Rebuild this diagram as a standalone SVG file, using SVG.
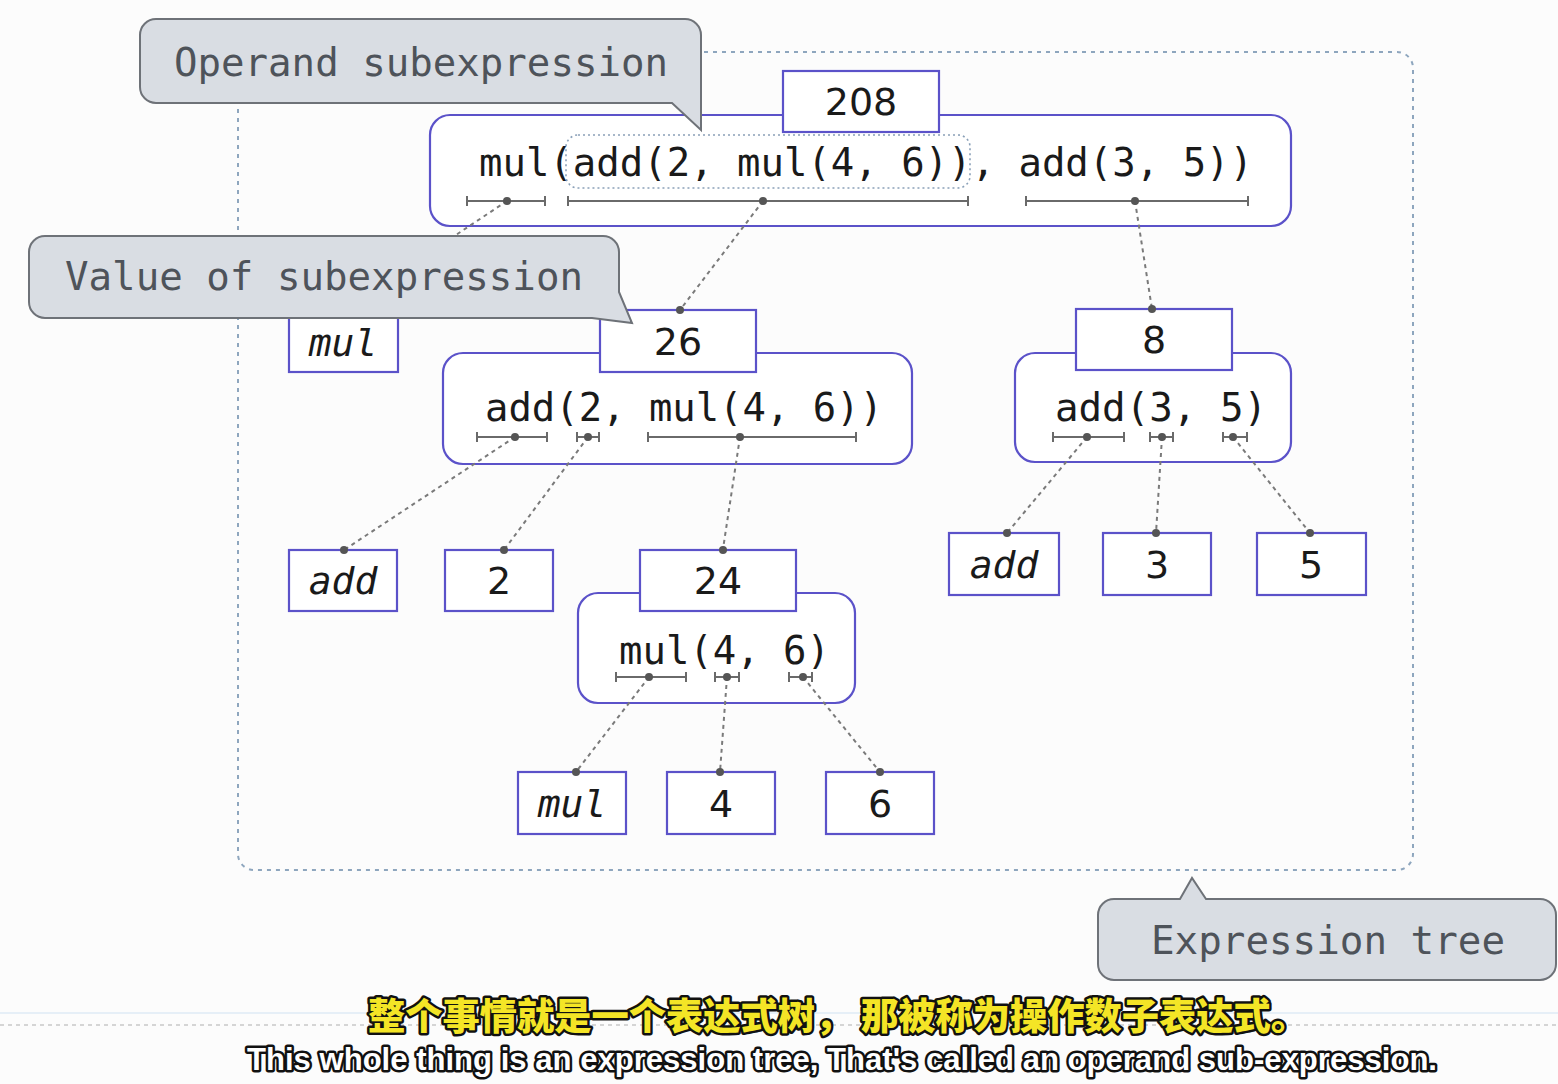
<svg xmlns="http://www.w3.org/2000/svg" width="1558" height="1084" viewBox="0 0 1558 1084">
<defs>
<style>
.bg{fill:#fcfcfc}
.tree{fill:none;stroke:#8ea6be;stroke-width:2;stroke-dasharray:4 5}
.exprbox{fill:#ffffff;stroke:#5b52c9;stroke-width:2.2}
.valbox{fill:#ffffff;stroke:#5b52c9;stroke-width:2.2}
.mono{font-family:"DejaVu Sans Mono","Liberation Mono",monospace;font-size:38.5px;fill:#1a1a1a}
.num{font-family:"DejaVu Sans","Liberation Sans",sans-serif;font-size:38px;fill:#1a1a1a;text-anchor:middle}
.op{font-family:"DejaVu Sans Mono","Liberation Mono",monospace;font-size:38px;font-style:italic;fill:#1a1a1a;text-anchor:middle}
.br{stroke:#6a6a6a;stroke-width:2;fill:none}
.dot{fill:#555555}
.conn{stroke:#7a7a7a;stroke-width:2;stroke-dasharray:4 4;fill:none}
.callout{fill:#d9dde3;stroke:#6e7278;stroke-width:2}
.ctext{font-family:"DejaVu Sans Mono","Liberation Mono",monospace;font-size:38.5px;fill:#4e535a}
.sel{fill:none;stroke:#8aa0b8;stroke-width:1.6;stroke-dasharray:2 3}
.zh{font-family:"Noto Sans CJK SC",sans-serif;font-weight:900;font-size:37px;fill:#f4e526;stroke:#111;stroke-width:5;paint-order:stroke;stroke-linejoin:round;text-anchor:middle}
.en{font-family:"Liberation Sans",sans-serif;font-weight:bold;font-size:31px;fill:#ffffff;stroke:#111;stroke-width:5;paint-order:stroke;stroke-linejoin:round;text-anchor:middle}
</style>
</defs>
<rect class="bg" x="0" y="0" width="1558" height="1084"/>
<line x1="0" y1="1013" x2="1558" y2="1013" stroke="#e6eff7" stroke-width="2"/>
<line x1="0" y1="1025" x2="1558" y2="1025" stroke="#c8c8c8" stroke-width="1.5" stroke-dasharray="4 4"/>

<g id="expression-tree-boundary">
<rect class="tree" x="238" y="52" width="1175" height="818" rx="16"/>
</g>

<g id="expr-top">
<rect class="exprbox" x="430" y="115" width="861" height="111" rx="20"/>
<rect class="sel" x="566" y="135" width="404" height="53" rx="12"/>
<text class="mono" x="479" y="176" textLength="774" lengthAdjust="spacingAndGlyphs" xml:space="preserve">mul(add(2, mul(4, 6)), add(3, 5))</text>
<path class="br" d="M467,201 H545 M467,196 V206 M545,196 V206"/>
<path class="br" d="M568,201 H968 M568,196 V206 M968,196 V206"/>
<path class="br" d="M1026,201 H1248 M1026,196 V206 M1248,196 V206"/>
</g>

<g id="expr-26">
<rect class="exprbox" x="443" y="353" width="469" height="111" rx="20"/>
<text class="mono" x="485" y="421" textLength="398" lengthAdjust="spacingAndGlyphs" xml:space="preserve">add(2, mul(4, 6))</text>
<path class="br" d="M477,437 H547 M477,432 V442 M547,432 V442"/>
<path class="br" d="M577,437 H599 M577,432 V442 M599,432 V442"/>
<path class="br" d="M648,437 H856 M648,432 V442 M856,432 V442"/>
</g>

<g id="expr-8">
<rect class="exprbox" x="1015" y="353" width="276" height="109" rx="20"/>
<text class="mono" x="1055" y="421" textLength="212" lengthAdjust="spacingAndGlyphs" xml:space="preserve">add(3, 5)</text>
<path class="br" d="M1053,437 H1124 M1053,432 V442 M1124,432 V442"/>
<path class="br" d="M1150,437 H1173 M1150,432 V442 M1173,432 V442"/>
<path class="br" d="M1223,437 H1247 M1223,432 V442 M1247,432 V442"/>
</g>

<g id="expr-24">
<rect class="exprbox" x="578" y="593" width="277" height="110" rx="20"/>
<text class="mono" x="619" y="664" textLength="211" lengthAdjust="spacingAndGlyphs" xml:space="preserve">mul(4, 6)</text>
<path class="br" d="M616,677 H686 M616,672 V682 M686,672 V682"/>
<path class="br" d="M715,677 H739 M715,672 V682 M739,672 V682"/>
<path class="br" d="M789,677 H812 M789,672 V682 M812,672 V682"/>
</g>

<g id="connectors">
<line class="conn" x1="507" y1="201" x2="343" y2="310"/>
<line class="conn" x1="763" y1="201" x2="680" y2="310"/>
<line class="conn" x1="1135" y1="201" x2="1152" y2="309"/>
<line class="conn" x1="515" y1="437" x2="344" y2="550"/>
<line class="conn" x1="588" y1="437" x2="504" y2="550"/>
<line class="conn" x1="740" y1="437" x2="723" y2="549"/>
<line class="conn" x1="1087" y1="437" x2="1007" y2="533"/>
<line class="conn" x1="1162" y1="437" x2="1156" y2="533"/>
<line class="conn" x1="1233" y1="437" x2="1310" y2="533"/>
<line class="conn" x1="649" y1="677" x2="576" y2="772"/>
<line class="conn" x1="727" y1="677" x2="720" y2="772"/>
<line class="conn" x1="803" y1="677" x2="880" y2="772"/>
<circle class="dot" cx="507" cy="201" r="4"/>
<circle class="dot" cx="763" cy="201" r="4"/>
<circle class="dot" cx="1135" cy="201" r="4"/>
<circle class="dot" cx="515" cy="437" r="4"/>
<circle class="dot" cx="588" cy="437" r="4"/>
<circle class="dot" cx="740" cy="437" r="4"/>
<circle class="dot" cx="1087" cy="437" r="4"/>
<circle class="dot" cx="1162" cy="437" r="4"/>
<circle class="dot" cx="1233" cy="437" r="4"/>
<circle class="dot" cx="649" cy="677" r="4"/>
<circle class="dot" cx="727" cy="677" r="4"/>
<circle class="dot" cx="803" cy="677" r="4"/>
</g>

<g id="val-208"><rect class="valbox" x="783" y="71" width="156" height="61"/><text class="num" x="861" y="115">208</text></g>
<g id="val-26"><rect class="valbox" x="600" y="310" width="156" height="62"/><text class="num" x="678" y="355">26</text></g>
<g id="val-8"><rect class="valbox" x="1076" y="309" width="156" height="61"/><text class="num" x="1154" y="353">8</text></g>
<g id="val-24"><rect class="valbox" x="640" y="550" width="156" height="61"/><text class="num" x="718" y="594">24</text></g>
<g id="leaf-mul-top"><rect class="valbox" x="289" y="310" width="109" height="62"/><text class="op" x="343" y="356">mul</text></g>
<g id="leaf-add-left"><rect class="valbox" x="289" y="550" width="108" height="61"/><text class="op" x="343" y="594">add</text></g>
<g id="leaf-2"><rect class="valbox" x="445" y="550" width="108" height="61"/><text class="num" x="499" y="594">2</text></g>
<g id="leaf-add-right"><rect class="valbox" x="949" y="533" width="110" height="62"/><text class="op" x="1004" y="578">add</text></g>
<g id="leaf-3"><rect class="valbox" x="1103" y="533" width="108" height="62"/><text class="num" x="1157" y="578">3</text></g>
<g id="leaf-5"><rect class="valbox" x="1257" y="533" width="109" height="62"/><text class="num" x="1311" y="578">5</text></g>
<g id="leaf-mul-bottom"><rect class="valbox" x="518" y="772" width="108" height="62"/><text class="op" x="572" y="817">mul</text></g>
<g id="leaf-4"><rect class="valbox" x="667" y="772" width="108" height="62"/><text class="num" x="721" y="817">4</text></g>
<g id="leaf-6"><rect class="valbox" x="826" y="772" width="108" height="62"/><text class="num" x="880" y="817">6</text></g>

<g id="dots-child">
<circle class="dot" cx="343" cy="310" r="4"/>
<circle class="dot" cx="680" cy="310" r="4"/>
<circle class="dot" cx="1152" cy="309" r="4"/>
<circle class="dot" cx="344" cy="550" r="4"/>
<circle class="dot" cx="504" cy="550" r="4"/>
<circle class="dot" cx="723" cy="550" r="4"/>
<circle class="dot" cx="1007" cy="533" r="4"/>
<circle class="dot" cx="1156" cy="533" r="4"/>
<circle class="dot" cx="1310" cy="533" r="4"/>
<circle class="dot" cx="576" cy="772" r="4"/>
<circle class="dot" cx="720" cy="772" r="4"/>
<circle class="dot" cx="880" cy="772" r="4"/>
</g>

<g id="callout-operand">
<path class="callout" d="M156,19 H685 A16,16 0 0 1 701,35 L701,130 L672,103 H156 A16,16 0 0 1 140,87 V35 A16,16 0 0 1 156,19 Z"/>
<text class="ctext" x="174" y="76" textLength="494" lengthAdjust="spacingAndGlyphs">Operand subexpression</text>
</g>
<g id="callout-value">
<path class="callout" d="M45,236 H603 A16,16 0 0 1 619,252 V292 L632,323 L592,318 H45 A16,16 0 0 1 29,302 V252 A16,16 0 0 1 45,236 Z"/>
<text class="ctext" x="65" y="290" textLength="518" lengthAdjust="spacingAndGlyphs">Value of subexpression</text>
</g>
<g id="callout-tree">
<path class="callout" d="M1114,899 H1180 L1192,878 L1206,899 H1540 A16,16 0 0 1 1556,915 V964 A16,16 0 0 1 1540,980 H1114 A16,16 0 0 1 1098,964 V915 A16,16 0 0 1 1114,899 Z"/>
<text class="ctext" x="1151" y="954" textLength="354" lengthAdjust="spacingAndGlyphs">Expression tree</text>
</g>

<g id="subtitles">
<text class="zh" x="838" y="1030" textLength="940" lengthAdjust="spacingAndGlyphs">整个事情就是一个表达式树， 那被称为操作数子表达式。</text>
<text class="en" x="842" y="1070" textLength="1190" lengthAdjust="spacingAndGlyphs">This whole thing is an expression tree, That's called an operand sub-expression.</text>
</g>
</svg>
